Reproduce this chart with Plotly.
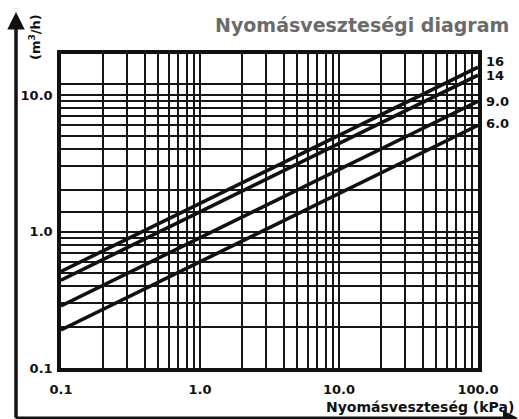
import plotly.graph_objects as go
import math

# ---- data ----
x_ends = [0.1, 100.0]                 # kPa
kv_labels = ["16", "14", "9.0", "6.0"]
q_16 = [0.51, 16.0]
q_14 = [0.44, 14.0]
q_9 = [0.285, 9.0]
q_6 = [0.19, 6.0]
series = [q_16, q_14, q_9, q_6]

x_grid = [0.1, 0.2, 0.3, 0.4, 0.5, 0.6, 0.7, 0.8, 0.9,
          1, 2, 3, 4, 5, 6, 7, 8, 9,
          10, 20, 30, 40, 50, 60, 70, 80, 90, 100]
x_labels = {0.1: "0.1", 1: "1.0", 10: "10.0", 100: "100.0"}
y_grid = [0.1, 0.2, 0.3, 0.4, 0.5, 0.6, 0.7, 0.8, 0.9,
          1, 1.4, 2, 3, 4, 5, 6, 7, 8, 9, 10, 12]
y_labels = {0.1: "0.1", 1: "1.0", 10: "10.0"}
y_max = 20

W, H = 519, 419
ml, mr, mt, mb = 61, 41, 54, 51
pw, ph = W - ml - mr, H - mt - mb

def px2paper_x(px):
    return (px - ml) / pw

def px2paper_y(py):
    return (H - mb - py) / ph

FONT = "DejaVu Sans"
fig = go.Figure()
for q in series:
    fig.add_trace(go.Scatter(x=x_ends, y=q, mode="lines",
                             line=dict(color="#111", width=3.6),
                             hoverinfo="skip", showlegend=False))

label_shift = [6, 0, 0, 2]
for lab, q, sh in zip(kv_labels, series, label_shift):
    fig.add_annotation(x=math.log10(x_ends[-1]), y=math.log10(q[-1]), xref="x", yref="y",
                       text=lab, showarrow=False, xanchor="left", yanchor="middle",
                       xshift=6, yshift=sh,
                       font=dict(family=FONT, size=13, color="#111", weight="bold"))

axis_common = dict(type="log", showgrid=True, gridcolor="#151515", gridwidth=1.6,
                   showline=True, linecolor="#111", linewidth=3.5, mirror=True,
                   ticks="", zeroline=False,
                   tickfont=dict(family=FONT, size=13, color="#111", weight="bold"))

fig.update_xaxes(range=[math.log10(x_grid[0]), math.log10(x_grid[-1])],
                 tickvals=x_grid, ticktext=[x_labels.get(v, "") for v in x_grid],
                 ticklabelstandoff=7, **axis_common)
fig.update_yaxes(range=[math.log10(y_grid[0]), math.log10(y_max)],
                 tickvals=y_grid, ticktext=[y_labels.get(v, "") for v in y_grid],
                 ticklabelstandoff=2, **axis_common)

# title
fig.add_annotation(xref="paper", yref="paper", x=px2paper_x(511), y=px2paper_y(25),
                   xanchor="right", yanchor="middle", showarrow=False,
                   text="Nyomásveszteségi diagram",
                   font=dict(family=FONT, size=19, color="#6b6b6b", weight="bold"))
# x title
fig.add_annotation(xref="paper", yref="paper", x=px2paper_x(516), y=px2paper_y(407),
                   xanchor="right", yanchor="middle", showarrow=False,
                   text="Nyomásveszteség (kPa)",
                   font=dict(family=FONT, size=14, color="#111", weight="bold"))
# y title
fig.add_annotation(xref="paper", yref="paper", x=px2paper_x(35), y=px2paper_y(37),
                   xanchor="center", yanchor="middle", showarrow=False, textangle=-90,
                   text="(m<sup>3</sup>/h)",
                   font=dict(family=FONT, size=13, color="#111", weight="bold"))

# outer arrow axes
fig.add_annotation(xref="paper", yref="paper", x=px2paper_x(16), y=px2paper_y(12),
                   ax=0, ay=407, axref="pixel", ayref="pixel", text="", showarrow=True,
                   arrowhead=2, arrowsize=1, arrowwidth=3.5, arrowcolor="#111")
fig.add_annotation(xref="paper", yref="paper", x=px2paper_x(518), y=px2paper_y(418),
                   ax=-504, ay=0, axref="pixel", ayref="pixel", text="", showarrow=True,
                   arrowhead=2, arrowsize=1, arrowwidth=3, arrowcolor="#111")

fig.update_layout(width=W, height=H, margin=dict(l=ml, r=mr, t=mt, b=mb),
                  plot_bgcolor="white", paper_bgcolor="white", showlegend=False)
fig.write_html("out.html", config={"displayModeBar": False},
               post_script="document.body.style.margin='0';document.body.style.overflow='hidden';")
